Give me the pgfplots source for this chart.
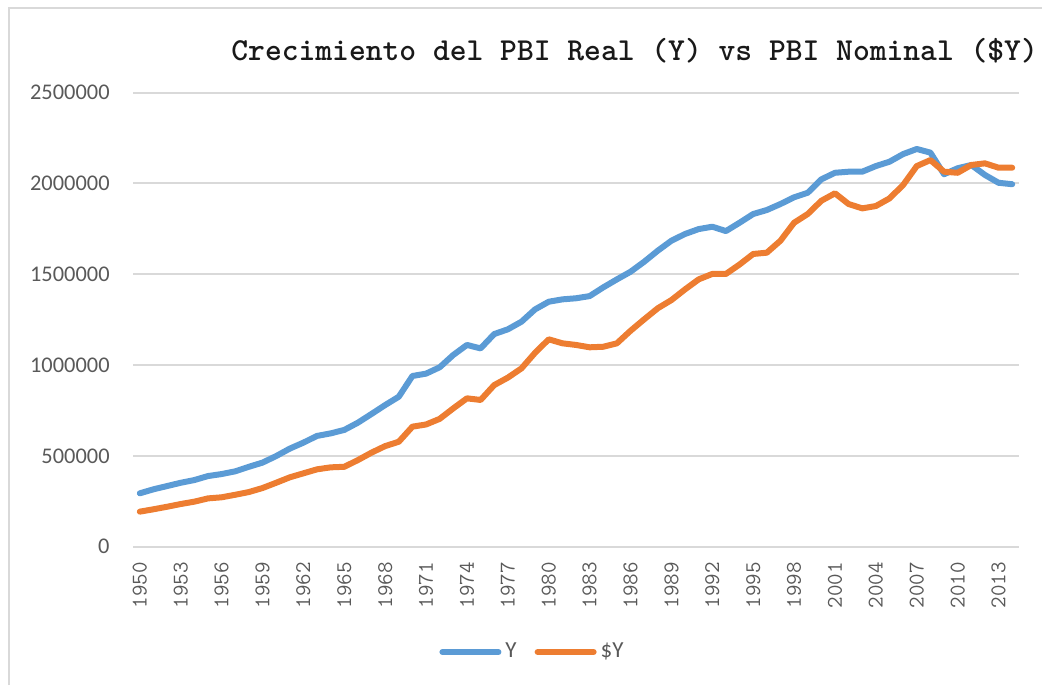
\documentclass[border=0pt]{standalone}
\usepackage{fontspec}
\setmainfont{Carlito}
\usepackage{pgfplots}
\pgfplotsset{compat=1.18}
\usepackage{pgfplotstable}

\definecolor{ybl}{HTML}{5B9BD5}
\definecolor{yor}{HTML}{ED7D31}
\definecolor{gridg}{HTML}{D9D9D9}
\definecolor{txtg}{HTML}{595959}

\pgfplotstableread{
year Y SY
1950 294000 193000
1951 316000 206000
1952 334000 220000
1953 352000 235000
1954 367000 248000
1955 389000 266000
1956 400000 272000
1957 415000 286000
1958 440000 301000
1959 463000 323000
1960 499000 352000
1961 540000 382000
1962 573000 404000
1963 610000 426000
1964 624000 437000
1965 643000 440000
1966 683000 477000
1967 731000 518000
1968 780000 554000
1969 826000 578000
1970 940000 661000
1971 953000 673000
1972 988000 704000
1973 1056000 762000
1974 1111000 817000
1975 1092000 808000
1976 1171000 890000
1977 1197000 931000
1978 1239000 982000
1979 1307000 1068000
1980 1349000 1142000
1981 1362000 1120000
1982 1368000 1111000
1983 1380000 1098000
1984 1428000 1101000
1985 1472000 1120000
1986 1514000 1189000
1987 1569000 1252000
1988 1630000 1313000
1989 1685000 1358000
1990 1722000 1417000
1991 1749000 1472000
1992 1762000 1502000
1993 1738000 1502000
1994 1784000 1554000
1995 1832000 1612000
1996 1854000 1619000
1997 1887000 1685000
1998 1924000 1784000
1999 1949000 1832000
2000 2023000 1905000
2001 2059000 1946000
2002 2065000 1887000
2003 2065000 1863000
2004 2096000 1876000
2005 2120000 1918000
2006 2162000 1992000
2007 2190000 2096000
2008 2170000 2129000
2009 2051000 2065000
2010 2084000 2059000
2011 2102000 2102000
2012 2047000 2111000
2013 2004000 2087000
2014 1996000 2087000
}\pbidata

\begin{document}
\begin{tikzpicture}
\useasboundingbox (0,0) rectangle (521pt,342.5pt);
% chart frame (only top and left edges are visible in the crop)
\draw[gridg, line width=1pt] (4.5pt,0) -- (4.5pt,338.5pt) -- (521pt,338.5pt);

\node[anchor=base west, inner sep=0pt, font=\ttfamily\bfseries\fontsize{16}{17}\selectfont, text=black!90]
  at (115.5pt,312pt) {Crecimiento del PBI Real (Y) vs PBI Nominal (\$Y)};

\begin{axis}[
    at={(66.5pt,69.15pt)}, anchor=south west,
    scale only axis,
    width=443pt, height=227pt,
    xmin=1949.5, xmax=2014.5,
    ymin=0, ymax=2500000,
    scaled y ticks=false,
    axis line style={draw=none},
    major tick length=0pt,
    ymajorgrids,
    grid style={gridg, line width=1pt},
    ytick={0,500000,1000000,1500000,2000000,2500000},
    yticklabels={0,500000,1000000,1500000,2000000,2500000},
    y tick label style={font=\fontsize{11.2}{12}\selectfont, text=txtg, inner sep=0pt, xshift=-11.5pt},
    xtick={1950,1953,...,2013},
    xticklabels={1950,1953,1956,1959,1962,1965,1968,1971,1974,1977,1980,1983,1986,1989,1992,1995,1998,2001,2004,2007,2010,2013},
    x tick label style={font=\ttfamily\fontsize{11.2}{12}\selectfont, text=txtg, yshift=-7.5pt, rotate=90, anchor=east, inner sep=0pt},
    legend style={at={(0.452,-0.232)}, anchor=center, draw=none, fill=none,
        font=\fontsize{11.5}{12}\selectfont, text=txtg,
        /tikz/every even column/.append style={column sep=7pt}},
    legend columns=2,
    legend image code/.code={\draw[#1, line cap=round] (0pt,0pt) -- (28pt,0pt);},
    every axis plot/.append style={line width=3pt, line join=round, line cap=round},
    clip=false,
]
\addplot[ybl] table[x=year, y=Y] {\pbidata};
\addlegendentry{Y}
\addplot[yor] table[x=year, y=SY] {\pbidata};
\addlegendentry{\$Y}
\end{axis}
\end{tikzpicture}
\end{document}
